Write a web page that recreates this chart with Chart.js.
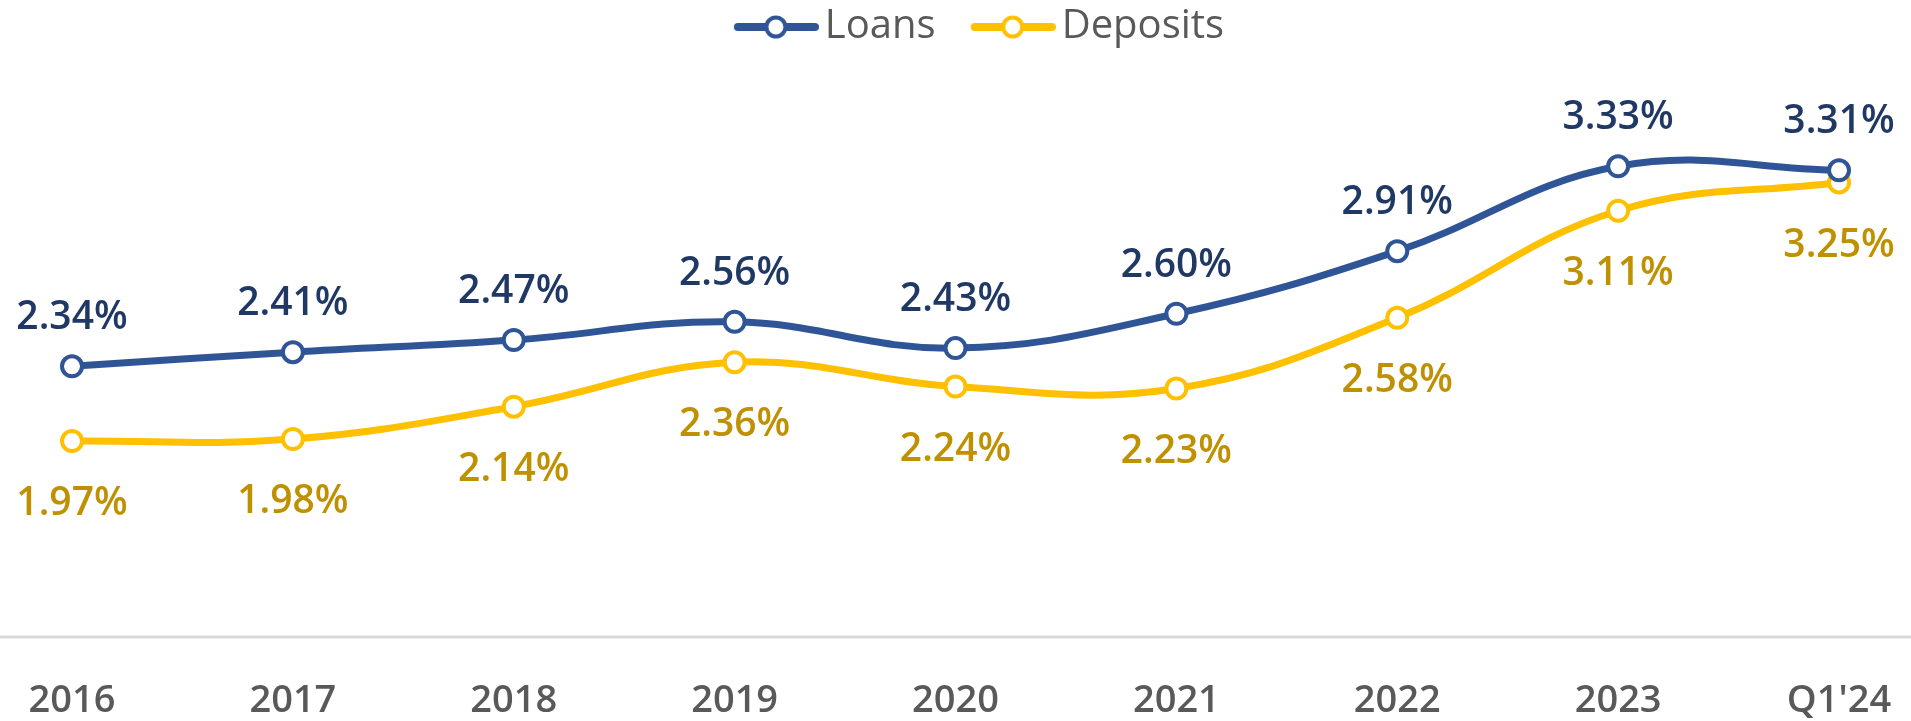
<!DOCTYPE html>
<html>
<head>
<meta charset="utf-8">
<script src="https://cdn.jsdelivr.net/npm/chart.js@4.4.1/dist/chart.umd.min.js"></script>
<style>
  html, body { margin: 0; padding: 0; background: #fff; }
  #wrap { width: 1911px; height: 721px; position: relative; }
</style>
</head>
<body>
<div id="wrap"><canvas id="chart"></canvas></div>
<script>
const categories = ['2016', '2017', '2018', '2019', '2020', '2021', '2022', '2023', "Q1'24"];
const loans = [2.34, 2.41, 2.47, 2.56, 2.43, 2.60, 2.91, 3.33, 3.31];
const deposits = [1.97, 1.98, 2.14, 2.36, 2.24, 2.23, 2.58, 3.11, 3.25];
const seriesNames = ['Loans', 'Deposits'];

const lineColors = ['#2F5597', '#FFC000'];
const labelColors = ['#1F3864', '#BF9000'];

Chart.defaults.font.family = '"Open Sans", sans-serif';

// legend swatch: line with a hollow circle, shifted right inside the image
function makeSwatch(color) {
  const c = document.createElement('canvas');
  c.width = 130;
  c.height = 28;
  const g = c.getContext('2d');
  g.strokeStyle = color;
  g.lineWidth = 8;
  g.lineCap = 'round';
  g.beginPath();
  g.moveTo(49, 14);
  g.lineTo(126, 14);
  g.stroke();
  g.beginPath();
  g.arc(87, 14, 9.5, 0, Math.PI * 2);
  g.fillStyle = '#fff';
  g.fill();
  g.lineWidth = 4;
  g.stroke();
  return c;
}
const swatches = lineColors.map(makeSwatch);

const valueLabels = {
  id: 'valueLabels',
  afterDatasetsDraw(chart) {
    const ctx = chart.ctx;
    ctx.save();
    ctx.font = '600 39px "Open Sans"';
    ctx.textAlign = 'center';
    ctx.textBaseline = 'middle';
    chart.data.datasets.forEach((ds, di) => {
      const meta = chart.getDatasetMeta(di);
      ctx.fillStyle = labelColors[di];
      meta.data.forEach((pt, i) => {
        const dy = di === 0 ? -48 : 63;
        ctx.fillText(ds.data[i].toFixed(2) + '%', pt.x, pt.y + dy);
      });
    });
    ctx.restore();
  }
};

// thin grey baseline running across the whole width, legend nudged right
const baseLine = {
  id: 'baseLine',
  afterLayout(chart) {
    chart.legend.left += 8;
    chart.legend.right += 8;
  },
  beforeDatasetsDraw(chart) {
    const ctx = chart.ctx;
    const y = chart.chartArea.bottom;
    ctx.save();
    ctx.strokeStyle = '#D9D9D9';
    ctx.lineWidth = 3;
    ctx.beginPath();
    ctx.moveTo(0, y);
    ctx.lineTo(chart.width, y);
    ctx.stroke();
    ctx.restore();
  }
};

new Chart(document.getElementById('chart'), {
  type: 'line',
  data: {
    labels: categories,
    datasets: [loans, deposits].map((d, i) => ({
      label: seriesNames[i],
      data: d,
      borderColor: lineColors[i],
      backgroundColor: lineColors[i],
      borderWidth: 7,
      tension: 0.4,
      pointRadius: 10,
      pointHoverRadius: 10,
      pointBorderWidth: 4,
      pointBackgroundColor: '#fff',
      pointBorderColor: lineColors[i]
    }))
  },
  options: {
    responsive: true,
    maintainAspectRatio: false,
    animation: false,
    layout: { padding: { left: 72, right: 72, top: 3, bottom: 0 } },
    scales: {
      x: {
        grid: { display: false, drawTicks: false },
        border: { display: false },
        ticks: {
          color: '#595959',
          font: { size: 38, weight: '600' },
          padding: 41,
          maxRotation: 0
        },
        afterFit(scale) {
          scale.height = 84;
          scale.paddingLeft = 0;
          scale.paddingRight = 0;
        }
      },
      y: {
        display: false,
        min: 1.0,
        max: 3.871
      }
    },
    plugins: {
      legend: {
        position: 'top',
        labels: {
          color: '#595959',
          font: { size: 40 },
          usePointStyle: true,
          pointStyleWidth: 102,
          padding: 4,
          generateLabels(chart) {
            const items = Chart.defaults.plugins.legend.labels.generateLabels(chart);
            items.forEach((it, i) => { it.pointStyle = swatches[i]; });
            return items;
          }
        }
      },
      tooltip: { enabled: false }
    }
  },
  plugins: [baseLine, valueLabels]
});
</script>
</body>
</html>
